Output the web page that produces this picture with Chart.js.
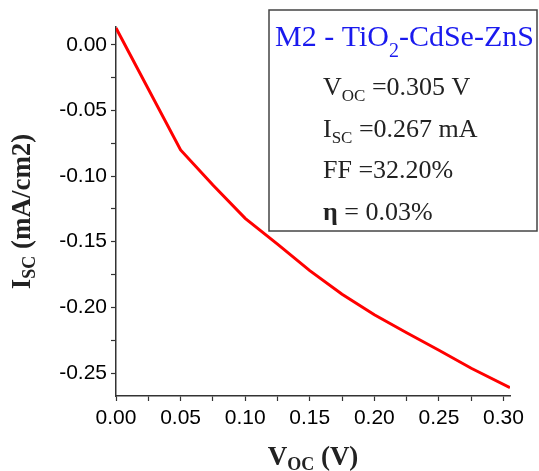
<!DOCTYPE html>
<html>
<head>
<meta charset="utf-8">
<script src="https://cdn.jsdelivr.net/npm/chart.js@4"></script>
<style>
	html, body { margin: 0; padding: 0; background: #fff; }
	#wrap { width: 539px; height: 471px; }
</style>
</head>
<body>
<div id="wrap"><canvas id="ivChart" width="539" height="471"></canvas></div>
<script>
// data
const voltage = [0, 0.05, 0.075, 0.10, 0.125, 0.15, 0.175, 0.20, 0.225, 0.25, 0.275, 0.305];
const current = [0.0127, -0.0801, -0.1068, -0.1322, -0.1518, -0.1720, -0.1900, -0.2056, -0.2193, -0.2327, -0.2464, -0.2611];

const xRange = [0, 0.305];
const yRange = [-0.2675, 0.0135];
const tickStep = 0.025;

// text of the inset box
const boxTitle = [{ t: 'M2 - TiO' }, { t: '2', sub: true }, { t: '-CdSe-ZnS' }];
const boxLines = [
	[{ t: 'V' }, { t: 'OC', sub: true }, { t: ' =0.305 V' }],
	[{ t: 'I' }, { t: 'SC', sub: true }, { t: ' =0.267 mA' }],
	[{ t: 'FF =32.20%' }],
	[{ t: 'η', bold: true }, { t: ' = 0.03%' }]
];
const xTitle = [{ t: 'V' }, { t: 'OC', sub: true }, { t: ' (V)' }];
const yTitle = [{ t: 'I' }, { t: 'SC', sub: true }, { t: ' (mA/cm2)' }];

const serif = '"Liberation Serif", "Times New Roman", serif';
const sans = '"Liberation Sans", Arial, sans-serif';

function partFont(p, size, bold) {
	const s = p.sub ? Math.round(size * 0.65) : size;
	return ((bold || p.bold) ? 'bold ' : '') + s + 'px ' + serif;
}

function richWidth(ctx, parts, size, bold) {
	let w = 0;
	parts.forEach(p => { ctx.font = partFont(p, size, bold); w += ctx.measureText(p.t).width; });
	return w;
}

function drawRich(ctx, parts, x, y, size, bold, subDrop) {
	let cx = x;
	parts.forEach(p => {
		ctx.font = partFont(p, size, bold);
		ctx.fillText(p.t, cx, p.sub ? y + subDrop : y);
		cx += ctx.measureText(p.t).width;
	});
}

const extras = {
	id: 'extras',
	afterDraw(chart) {
		const ctx = chart.ctx;
		const a = chart.chartArea;
		ctx.save();
		ctx.textBaseline = 'alphabetic';
		ctx.textAlign = 'left';

		// axis titles
		ctx.fillStyle = '#222';
		const xw = richWidth(ctx, xTitle, 27, true);
		drawRich(ctx, xTitle, (a.left + a.right) / 2 - xw / 2, 465, 27, true, 5);

		const yw = richWidth(ctx, yTitle, 27, true);
		ctx.translate(30, (a.top + a.bottom) / 2);
		ctx.rotate(-Math.PI / 2);
		drawRich(ctx, yTitle, -yw / 2, 0, 27, true, 5);
		ctx.setTransform(1, 0, 0, 1, 0, 0);

		// inset box
		const bx = 269, by = 10, bw = 268, bh = 221;
		ctx.fillStyle = '#fff';
		ctx.fillRect(bx, by, bw, bh);
		ctx.strokeStyle = '#444';
		ctx.lineWidth = 1.5;
		ctx.strokeRect(bx, by, bw, bh);

		ctx.fillStyle = '#1a1aee';
		drawRich(ctx, boxTitle, bx + 6, by + 36, 30, false, 11);

		ctx.fillStyle = '#222';
		boxLines.forEach((line, i) => {
			drawRich(ctx, line, bx + 54, by + 85 + i * 41.5, 26, false, 6);
		});
		ctx.restore();
	}
};

function tickLabel(v) {
	const k = v / 0.05;
	return Math.abs(k - Math.round(k)) < 1e-6 ? v.toFixed(2) : '';
}

const axisStyle = {
	border: { display: true, color: '#333', width: 1.5 },
	grid: { drawOnChartArea: false, drawTicks: true, tickLength: 5, tickColor: '#333', tickWidth: 1.2 }
};

const ctx = document.getElementById('ivChart').getContext('2d');
const ivChart = new Chart(ctx, {
	type: 'scatter',
	data: {
		datasets: [{
			data: voltage.map((v, i) => ({ x: v, y: current[i] })),
			showLine: true,
			borderColor: '#ff0000',
			borderWidth: 3,
			pointRadius: 0,
			tension: 0
		}]
	},
	options: {
		responsive: false,
		animation: false,
		layout: { padding: { top: 27, right: 29, left: 0, bottom: 0 } },
		plugins: {
			legend: { display: false },
			tooltip: { enabled: false }
		},
		scales: {
			x: {
				type: 'linear',
				min: xRange[0],
				max: xRange[1],
				...axisStyle,
				ticks: {
					stepSize: tickStep,
					includeBounds: false,
					autoSkip: false,
					maxRotation: 0,
					padding: 5,
					color: '#000',
					font: { family: sans, size: 21 },
					callback: tickLabel
				},
				afterFit(scale) { scale.height = 75; }
			},
			y: {
				type: 'linear',
				min: yRange[0],
				max: yRange[1],
				...axisStyle,
				ticks: {
					stepSize: tickStep,
					includeBounds: false,
					autoSkip: false,
					padding: 4,
					color: '#000',
					font: { family: sans, size: 21 },
					callback: tickLabel
				},
				afterFit(scale) { scale.width = 116; }
			}
		}
	},
	plugins: [extras]
});
</script>
</body>
</html>
